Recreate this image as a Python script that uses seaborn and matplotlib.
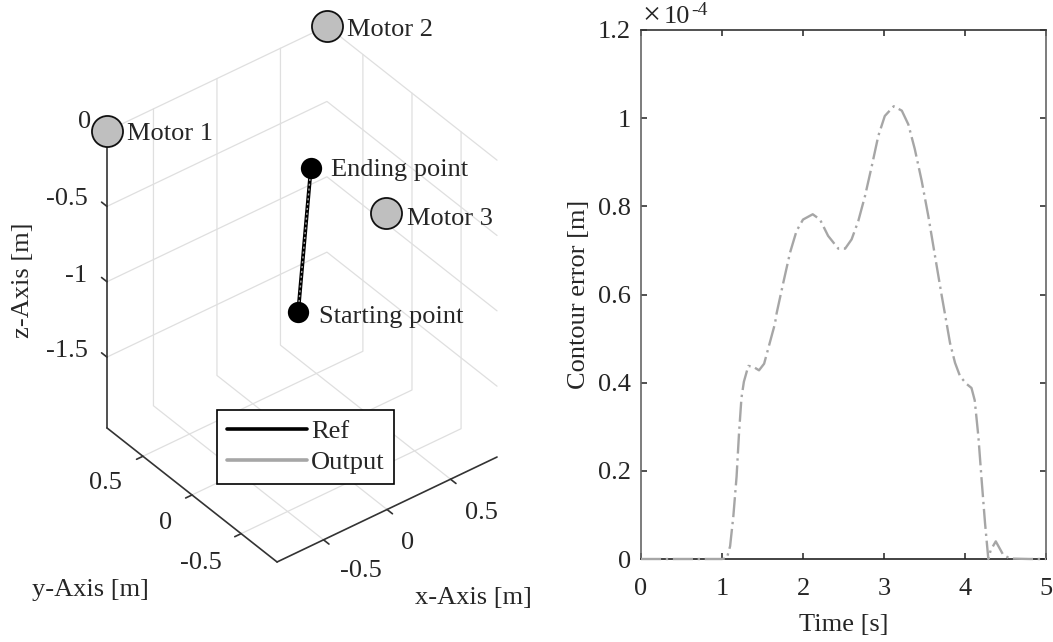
import numpy as np
import seaborn as sns
import matplotlib.pyplot as plt
from matplotlib.lines import Line2D

sns.set_style("white")
plt.rcParams['font.family'] = ['Liberation Serif', 'DejaVu Serif']
fs = 19
text_col = "#262626"

# right panel: contour error, values in 1e-4 m
time_s = [0, 0.5, 1.0, 1.06, 1.10, 1.14, 1.18, 1.21, 1.24, 1.27, 1.325, 1.387, 1.457, 1.52, 1.57,
          1.654, 1.675, 1.757, 1.84, 1.92, 2.0, 2.12, 2.21, 2.31, 2.436, 2.52, 2.60, 2.683, 2.765,
          2.85, 2.93, 3.01, 3.12, 3.22, 3.30, 3.38, 3.465, 3.547, 3.63, 3.71, 3.765, 3.815, 3.877,
          3.94, 4.02, 4.08, 4.12, 4.165, 4.205, 4.247, 4.288, 4.317, 4.38, 4.47, 4.555, 4.8, 5.0]
contour_err = [0, 0, 0, 0.002, 0.029, 0.097, 0.187, 0.285, 0.365, 0.402, 0.438, 0.436, 0.428, 0.443,
               0.477, 0.534, 0.558, 0.627, 0.695, 0.744, 0.770, 0.782, 0.770, 0.733, 0.704, 0.704,
               0.725, 0.767, 0.823, 0.892, 0.96, 1.005, 1.027, 1.017, 0.986, 0.93, 0.858, 0.778,
               0.687, 0.60, 0.543, 0.49, 0.445, 0.414, 0.397, 0.388, 0.36, 0.278, 0.18, 0.082, 0,
               0.02, 0.04, 0.01, 0.001, 0, 0]

# left panel: 3d positions in m
motor_names = ["Motor 1", "Motor 2", "Motor 3"]
motor_x = [-0.866, 0.866, -0.012]
motor_y = [0.866, 0.866, -0.866]
motor_z = [0.0, 0.0, 0.0]
path_x = [-0.03, 0.07]
path_y = [0.0, 0.0]
path_z = [-1.09, -0.177]
xy_ticks = [-0.5, 0, 0.5]
z_ticks = [-1.5, -1, -0.5, 0]
lim = 0.866
z_min = -1.97


def project(x, y, z):
    # fixed view of the 3d box onto figure pixels
    x, y, z = np.asarray(x, float), np.asarray(y, float), np.asarray(z, float)
    px = 302 + 127 * x - 98.2 * y
    py = 145.6 - 60.6 * x - 77.4 * y - 150.7 * z
    return px, py


fig = plt.figure(figsize=(10.53, 6.42), dpi=100)

ax3 = fig.add_axes([0, 0, 1, 1])
ax3.set_xlim(0, 1053)
ax3.set_ylim(642, 0)
ax3.axis("off")


def line3(xs, ys, zs, **kw):
    px, py = project(xs, ys, zs)
    ax3.plot(px, py, **kw)


# walls and floor
grid_kw = dict(color="#dfdfdf", lw=0.9, zorder=1)
for z in z_ticks:
    line3([-lim, lim, lim], [lim, lim, -lim], [z, z, z], **grid_kw)
for t in xy_ticks:
    line3([t, t, t], [-lim, lim, lim], [z_min, z_min, 0], **grid_kw)
    line3([-lim, lim, lim], [t, t, t], [z_min, z_min, 0], **grid_kw)

# box axes
axis_kw = dict(color="#333333", lw=1.2, zorder=2)
line3([-lim, -lim], [lim, lim], [0, z_min], **axis_kw)
line3([-lim, -lim], [lim, -lim], [z_min, z_min], **axis_kw)
line3([-lim, lim], [-lim, -lim], [z_min, z_min], **axis_kw)
for z in z_ticks[:-1]:
    line3([-lim, -lim], [lim, lim + 0.055], [z, z], **axis_kw)
for t in xy_ticks:
    line3([-lim, -lim - 0.05], [t, t], [z_min, z_min], **axis_kw)
    line3([t, t], [-lim, -lim - 0.055], [z_min, z_min], **axis_kw)

# trajectory
px, py = project(path_x, path_y, path_z)
sns.lineplot(x=px, y=py, sort=False, estimator=None, color="black", lw=2.7, ax=ax3, zorder=4)
sns.lineplot(x=px, y=py, sort=False, estimator=None, color="#a6a6a6", lw=1.0, ax=ax3, zorder=5,
             linestyle=(0, (1.5, 2)))
sns.scatterplot(x=px, y=py, color="black", s=235, linewidth=0, ax=ax3, zorder=6)

# motors
px, py = project(motor_x, motor_y, motor_z)
sns.scatterplot(x=px, y=py, color="#bfbfbf", edgecolor="#111111", linewidth=1.3, s=500, ax=ax3, zorder=6)

lab_kw = dict(fontsize=fs, color=text_col, va="center")
ax3.text(127, 134, motor_names[0], **lab_kw)
ax3.text(347, 30, motor_names[1], **lab_kw)
ax3.text(407, 219, motor_names[2], **lab_kw)
ax3.text(331, 170, "Ending point", **lab_kw)
ax3.text(319, 317, "Starting point", **lab_kw)

# tick labels of the 3d box
for lab, xp, yp in zip(["0", "-0.5", "-1", "-1.5"], [91, 88, 87, 88], [122, 199, 276, 351]):
    ax3.text(xp, yp, lab, ha="right", **lab_kw)
for lab, xp, yp in zip(["0.5", "0", "-0.5"], [105, 166, 201], [483, 523, 563]):
    ax3.text(xp, yp, lab, ha="center", **lab_kw)
for lab, xp, yp in zip(["-0.5", "0", "0.5"], [361, 408, 481], [571, 543, 513]):
    ax3.text(xp, yp, lab, ha="center", **lab_kw)
ax3.text(90, 590, "y-Axis [m]", ha="center", **lab_kw)
ax3.text(473, 598, "x-Axis [m]", ha="center", **lab_kw)
ax3.text(23, 280, "z-Axis [m]", ha="center", rotation=90, **lab_kw)

handles = [Line2D([], [], color="black", lw=2.6), Line2D([], [], color="#a6a6a6", lw=2.6)]
leg = ax3.legend(handles, ["Ref", "Output"], loc="upper left", bbox_to_anchor=(217, 410),
                 bbox_transform=ax3.transData, borderaxespad=0, fontsize=fs, fancybox=False,
                 framealpha=1, edgecolor="black", handlelength=3.05, handletextpad=0.15,
                 labelspacing=0.3, borderpad=0.36)
leg.get_frame().set_linewidth(1.2)
leg.set_zorder(7)
for t in leg.get_texts():
    t.set_color(text_col)

# right panel
ax = fig.add_axes([641 / 1053, 1 - 559 / 642, 405 / 1053, 529 / 642])
sns.lineplot(x=time_s, y=contour_err, sort=False, estimator=None, color="#a6a6a6", lw=1.7,
             linestyle=(0, (8.5, 2, 1, 2)), ax=ax, clip_on=False, zorder=3)
ax.set_xlim(0, 5)
ax.set_ylim(0, 1.2)
ax.set_xticks([0, 1, 2, 3, 4, 5])
ax.set_xticklabels(["0", "1", "2", "3", "4", "5"])
ax.set_yticks([0, 0.2, 0.4, 0.6, 0.8, 1, 1.2])
ax.set_yticklabels(["0", "0.2", "0.4", "0.6", "0.8", "1", "1.2"])
ax.tick_params(direction="in", length=4, width=1.1, top=True, right=True, left=True, bottom=True,
               labelsize=fs, labelcolor=text_col, color="#222222")
ax.tick_params(axis="x", pad=14)
ax.tick_params(axis="y", pad=7)
ax.set_xlabel("Time [s]", fontsize=fs, color=text_col, labelpad=10)
ax.set_ylabel("Contour error [m]", fontsize=fs, color=text_col, labelpad=6)
for side, col in zip(["left", "right", "top", "bottom"], ["#666666", "#666666", "#333333", "#222222"]):
    ax.spines[side].set_color(col)
    ax.spines[side].set_linewidth(1.2)

# exponent above the axes
ax3.text(642, 23, "\u00d7", fontsize=23, color=text_col, va="baseline")
ax3.text(664, 23, "10", fontsize=fs, color=text_col, va="baseline")
ax3.text(691, 15, "-4", fontsize=14, color=text_col, va="baseline")

fig.savefig("out.png", dpi=100)
